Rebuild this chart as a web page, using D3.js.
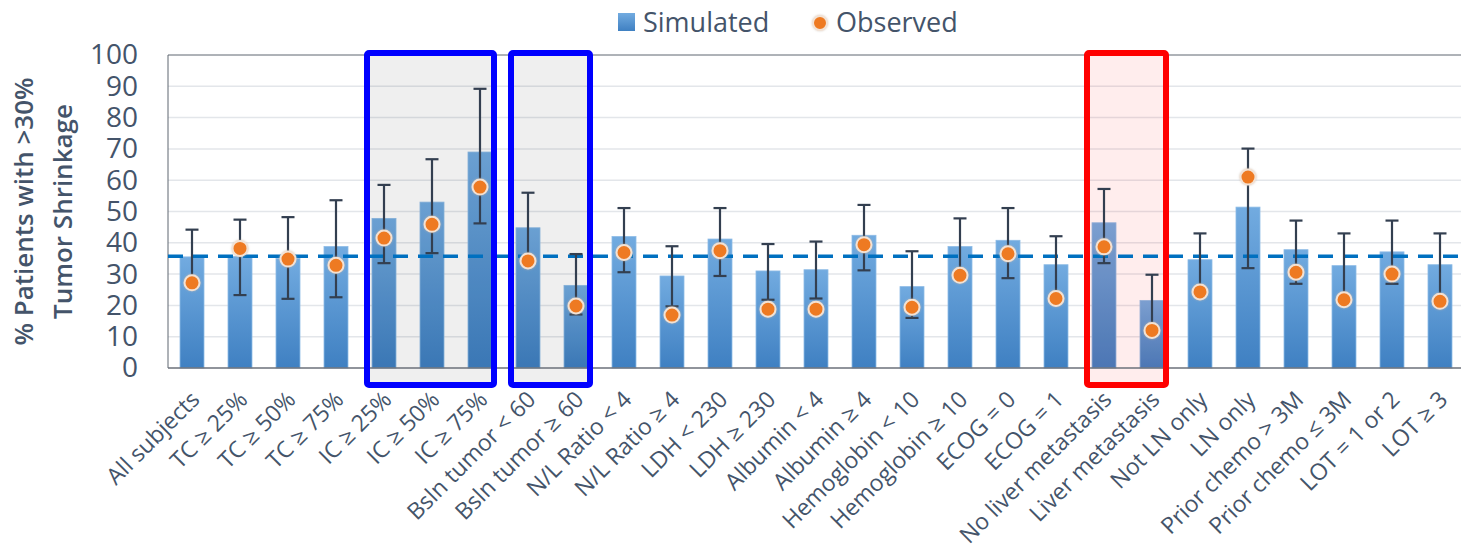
<!DOCTYPE html>
<html>
<head>
<meta charset="utf-8">
<script src="https://cdn.jsdelivr.net/npm/d3@7"></script>
<style>
  body { margin: 0; background: #fff; }
  svg text { font-family: "Open Sans", "Noto Sans", sans-serif; fill: #44546a; }
</style>
</head>
<body>
<div id="chart"></div>
<script>
// categories along the x axis
let categories = [
  "All subjects", "TC ≥ 25%", "TC ≥ 50%", "TC ≥ 75%", "IC ≥ 25%", "IC ≥ 50%", "IC ≥ 75%",
  "Bsln tumor < 60", "Bsln tumor ≥ 60", "N/L Ratio < 4", "N/L Ratio ≥ 4", "LDH < 230", "LDH ≥ 230",
  "Albumin < 4", "Albumin ≥ 4", "Hemoglobin < 10", "Hemoglobin ≥ 10", "ECOG = 0", "ECOG = 1",
  "No liver metastasis", "Liver metastasis", "Not LN only", "LN only", "Prior chemo > 3M",
  "Prior chemo ≤ 3M", "LOT = 1 or 2", "LOT ≥ 3"
];

// simulated % (bars) with error bar bounds
let simulated = [35.5, 35.6, 35.0, 38.8, 47.8, 53.0, 69.0, 44.8, 26.4, 42.0, 29.4, 41.2, 31.0,
  31.4, 42.4, 26.0, 38.8, 40.8, 33.0, 46.4, 21.6, 34.6, 51.4, 37.8, 32.7, 37.1, 33.0];
let errHigh = [44.2, 47.4, 48.2, 53.6, 58.5, 66.7, 89.2, 56.0, 36.4, 51.1, 38.9, 51.1, 39.6,
  40.4, 52.1, 37.3, 47.8, 51.1, 42.1, 57.2, 29.8, 43.0, 70.1, 47.1, 43.0, 47.1, 43.0];
let errLow = [27.5, 23.3, 22.1, 22.6, 33.5, 36.7, 46.2, 34.5, 17.1, 30.6, 19.7, 29.4, 21.8,
  22.2, 31.2, 16.0, 29.8, 28.7, 22.4, 33.5, 12.2, 24.5, 31.9, 26.9, 22.0, 26.9, 21.5];

// observed % (dots)
let observed = [27.2, 38.2, 34.8, 32.8, 41.5, 45.9, 57.8, 34.2, 19.8, 36.9, 16.9, 37.5, 18.8,
  18.8, 39.4, 19.4, 29.6, 36.5, 22.2, 38.7, 12.0, 24.3, 61.0, 30.6, 21.8, 30.0, 21.3];

// reference line (all subjects)
let refValue = 35.7;

let yTicks = [0, 10, 20, 30, 40, 50, 60, 70, 80, 90, 100];

// highlighted groups
let highlights = [
  { first: "IC ≥ 25%", last: "IC ≥ 75%", kind: "blue" },
  { first: "Bsln tumor < 60", last: "Bsln tumor ≥ 60", kind: "blue" },
  { first: "No liver metastasis", last: "Liver metastasis", kind: "red" }
];

let boxStyle = {
  blue: { stroke: "#0000ff", fill: "rgba(0,0,0,0.062)" },
  red: { stroke: "#ff0000", fill: "rgba(255,0,0,0.07)" }
};

let width = 1461, height = 550;
let plot = { left: 168, right: 1464, top: 55, bottom: 368 };

let svg = d3.select("#chart").append("svg")
  .attr("width", width)
  .attr("height", height);

let x = d3.scaleBand()
  .domain(categories)
  .range([plot.left, plot.right])
  .paddingInner(0.5)
  .paddingOuter(0.25);

let y = d3.scaleLinear()
  .domain([0, 100])
  .range([plot.bottom, plot.top]);

let cx = d => x(d) + x.bandwidth() / 2;

// gradient for bars
let defs = svg.append("defs");
let grad = defs.append("linearGradient")
  .attr("id", "barGrad")
  .attr("x1", 0).attr("y1", 0).attr("x2", 0).attr("y2", 1);
grad.append("stop").attr("offset", "0%").attr("stop-color", "#72abe0");
grad.append("stop").attr("offset", "100%").attr("stop-color", "#3f80c2");

let glow = defs.append("filter").attr("id", "glow")
  .attr("x", "-50%").attr("y", "-50%").attr("width", "200%").attr("height", "200%");
glow.append("feGaussianBlur").attr("in", "SourceAlpha").attr("stdDeviation", 1.2).attr("result", "b");
glow.append("feFlood").attr("flood-color", "#c9b8a8").attr("flood-opacity", 0.7);
glow.append("feComposite").attr("in2", "b").attr("operator", "in").attr("result", "s");
let mrg = glow.append("feMerge");
mrg.append("feMergeNode").attr("in", "s");
mrg.append("feMergeNode").attr("in", "SourceGraphic");

// gridlines
svg.append("g")
  .selectAll("line")
  .data(yTicks.filter(t => t > 0 && t < 100))
  .enter().append("line")
  .attr("x1", plot.left).attr("x2", width)
  .attr("y1", d => y(d)).attr("y2", d => y(d))
  .attr("stroke", "#e3e6ea")
  .attr("stroke-width", 1.5);

// plot frame
svg.append("line")
  .attr("x1", plot.left).attr("x2", width)
  .attr("y1", plot.top).attr("y2", plot.top)
  .attr("stroke", "#5f6670").attr("stroke-width", 1);
svg.append("line")
  .attr("x1", plot.left).attr("x2", plot.left)
  .attr("y1", plot.top).attr("y2", plot.bottom)
  .attr("stroke", "#5f6670").attr("stroke-width", 1);

// bars
svg.append("g")
  .selectAll("rect")
  .data(categories)
  .enter().append("rect")
  .attr("x", d => x(d))
  .attr("width", x.bandwidth())
  .attr("y", (d, i) => y(simulated[i]))
  .attr("height", (d, i) => y(0) - y(simulated[i]))
  .attr("fill", "url(#barGrad)")
  .attr("stroke", "#8dbbe6")
  .attr("stroke-width", 0.8);

// highlight box fills (drawn over bars, semi transparent)
let boxX0 = h => cx(h.first) - 17;
let boxX1 = h => cx(h.last) + 14;
let boxY0 = plot.top - 2, boxY1 = plot.bottom + 17;

svg.append("g")
  .selectAll("rect")
  .data(highlights)
  .enter().append("rect")
  .attr("x", boxX0)
  .attr("y", boxY0)
  .attr("width", h => boxX1(h) - boxX0(h))
  .attr("height", boxY1 - boxY0)
  .attr("fill", h => boxStyle[h.kind].fill);

// x axis line
svg.append("line")
  .attr("x1", plot.left).attr("x2", width)
  .attr("y1", y(0)).attr("y2", y(0))
  .attr("stroke", "#6b717a").attr("stroke-width", 1.5);

// reference dashed line
svg.append("line")
  .attr("x1", plot.left).attr("x2", width)
  .attr("y1", y(refValue)).attr("y2", y(refValue))
  .attr("stroke", "#0070c0")
  .attr("stroke-width", 3.5)
  .attr("stroke-dasharray", "15,10");

// error bars
let eb = svg.append("g")
  .attr("stroke", "#333f50")
  .attr("stroke-width", 2.2);
categories.forEach((c, i) => {
  eb.append("line")
    .attr("x1", cx(c)).attr("x2", cx(c))
    .attr("y1", y(errHigh[i])).attr("y2", y(errLow[i]));
  [errHigh[i], errLow[i]].forEach(v => {
    eb.append("line")
      .attr("x1", cx(c) - 6.5).attr("x2", cx(c) + 6.5)
      .attr("y1", y(v)).attr("y2", y(v));
  });
});

// observed dots
svg.append("g")
  .selectAll("circle")
  .data(categories)
  .enter().append("circle")
  .attr("cx", d => cx(d))
  .attr("cy", (d, i) => y(observed[i]))
  .attr("r", 7.5)
  .attr("fill", "#ee7a22")
  .attr("stroke", "#f3e2d4")
  .attr("stroke-width", 2)
  .attr("filter", "url(#glow)");

// highlight box outlines
svg.append("g")
  .selectAll("rect")
  .data(highlights)
  .enter().append("rect")
  .attr("x", boxX0)
  .attr("y", boxY0)
  .attr("width", h => boxX1(h) - boxX0(h))
  .attr("height", boxY1 - boxY0)
  .attr("rx", 2)
  .attr("fill", "none")
  .attr("stroke", h => boxStyle[h.kind].stroke)
  .attr("stroke-width", 6);

// y axis labels
let yAxis = d3.axisLeft(y).tickValues(yTicks).tickSize(0).tickPadding(0);
let yg = svg.append("g")
  .attr("transform", "translate(138,0)")
  .call(yAxis);
yg.select(".domain").remove();
yg.selectAll("text")
  .attr("font-size", 28)
  .attr("fill", "#44546a")
  .style("font-family", "\"Open Sans\", sans-serif");

// x axis labels
let xAxis = d3.axisBottom(x).tickSize(0).tickPadding(0);
let xg = svg.append("g")
  .attr("transform", "translate(0," + y(0) + ")")
  .call(xAxis);
xg.select(".domain").remove();
xg.selectAll("text")
  .attr("font-size", 23)
  .attr("fill", "#44546a")
  .style("font-family", "\"Open Sans\", sans-serif")
  .attr("text-anchor", "end")
  .attr("dy", 0)
  .attr("y", 0)
  .attr("transform", "translate(9,33) rotate(-45)");

// y axis title
let yt = svg.append("text")
  .attr("transform", "translate(0," + ((plot.top + plot.bottom) / 2) + ") rotate(-90)")
  .attr("text-anchor", "middle")
  .attr("font-size", 26)
  .attr("font-weight", 600);
yt.append("tspan").attr("x", 0).attr("y", 33).text("% Patients with >30%");
yt.append("tspan").attr("x", 0).attr("y", 72).text("Tumor Shrinkage");

// legend
let lg = svg.append("g");
lg.append("rect")
  .attr("x", 618).attr("y", 13).attr("width", 17).attr("height", 18)
  .attr("fill", "url(#barGrad)");
lg.append("text")
  .attr("x", 643).attr("y", 32)
  .attr("font-size", 27)
  .text("Simulated");
lg.append("circle")
  .attr("cx", 820).attr("cy", 23).attr("r", 7)
  .attr("fill", "#ee7a22")
  .attr("stroke", "#f3e2d4")
  .attr("stroke-width", 2)
  .attr("filter", "url(#glow)");
lg.append("text")
  .attr("x", 836).attr("y", 32)
  .attr("font-size", 27)
  .text("Observed");
</script>
</body>
</html>
